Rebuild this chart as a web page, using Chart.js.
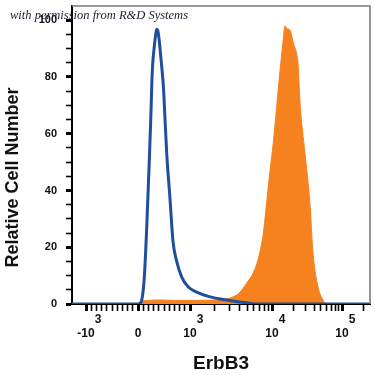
<!DOCTYPE html>
<html><head><meta charset="utf-8">
<script src="https://cdn.jsdelivr.net/npm/chart.js@4.4.1/dist/chart.umd.min.js"></script>
<style>html,body{margin:0;padding:0;background:#fff;}#wrap{width:375px;height:375px;}</style>
</head><body><div id="wrap"><canvas id="c" width="375" height="375"></canvas></div>
<script>
// Isotype control (blue outline) — fluorescence intensity vs relative cell number
const isotypeIntensity = [-1270, 0, 38, 71, 121, 167, 217, 244, 275, 317, 340, 360, 380, 400, 423, 462, 490, 519, 552, 615, 673, 744, 840, 967, 1207, 1754, 2806, 4915, 7140, 251000];
const isotypeCount     = [0, 0, 0.3, 1.3, 9.5, 27, 50.7, 64.8, 82.4, 91.5, 95, 96.8, 96.3, 94, 90, 82.4, 76, 65, 53, 37, 22, 15, 9.5, 6, 4.2, 2.5, 1.4, 0.4, 0, 0];
// ErbB3 stained cells (orange filled)
const erbb3Intensity = [-1270, 0, 77, 423, 808, 1324, 2323, 3344, 4072, 4915, 5912, 6805, 7834, 8616, 9454, 10437, 11600, 13100, 14300, 15340, 16370, 18070, 20150, 22530, 23500, 25120, 29600, 34900, 38500, 45400, 53500, 57150, 67400, 251000];
const erbb3Count     = [0, 0, 1.0, 1.4, 1.2, 1.3, 1.5, 2.5, 4.2, 7.4, 11, 16, 25, 36, 47, 57, 69, 83, 92, 98, 97, 96.5, 92, 88, 85, 71, 53, 35, 18, 6, 1.4, 0.3, 0, 0];

// Axis ticks
const xTickValues = [-1000,-900,-800,-700,-600,-500,-400,-300,-200,-100,0,100,200,300,400,500,600,700,800,900,1000,2000,3000,4000,5000,6000,7000,8000,9000,10000,20000,30000,40000,50000,60000,70000,80000,90000,100000,200000];
const xMajorValues = [-1000, 0, 1000, 10000, 100000];
const xMajorBase = ['-10', '0', '10', '10', '10'];
const xMajorExp  = ['3', '', '3', '4', '5'];
const yTickValues = [0,5,10,15,20,25,30,35,40,45,50,55,60,65,70,75,80,85,90,95,100];
const yLabelStep = 20;
const X_MIN = -1270, X_MAX = 251000, Y_MIN = 0, Y_MAX = 105;
const xTitle = 'ErbB3';
const yTitle = 'Relative Cell Number';
const watermarkText = 'with permission from R&D Systems';

// Biexponential-like display transform (linear near zero, log above 10^3)
const DEC1 = 82 / 52, DEC2 = 70 / 52;
function T(v) {
  if (v <= 1000) return v / 1000;
  const L = Math.log10(v);
  if (L <= 4) return 1 + (L - 3) * DEC1;
  return 1 + DEC1 + (L - 4) * DEC2;
}
const toPts = (xs, ys) => xs.map((x, i) => ({ x: T(x), y: ys[i] }));
const FONT = '"Liberation Sans", Arial, sans-serif';

const decor = {
  id: 'decor',
  afterDraw(chart) {
    const { ctx, chartArea: a } = chart;
    const xs = chart.scales.x;
    ctx.save();
    // top/right frame
    ctx.strokeStyle = '#7a7a7a';
    ctx.lineWidth = 1.6;
    ctx.beginPath();
    ctx.moveTo(a.left, a.top); ctx.lineTo(a.right, a.top); ctx.lineTo(a.right, a.bottom);
    ctx.stroke();
    // x tick labels with raised exponents
    ctx.fillStyle = '#111';
    ctx.textBaseline = 'alphabetic';
    xMajorValues.forEach((v, i) => {
      const px = xs.getPixelForValue(T(v));
      ctx.font = 'bold 12px ' + FONT;
      const w = ctx.measureText(xMajorBase[i]).width;
      ctx.textAlign = 'center';
      ctx.fillText(xMajorBase[i], px, a.bottom + 33);
      if (xMajorExp[i]) {
        ctx.font = 'bold 12px ' + FONT;
        ctx.textAlign = 'left';
        ctx.fillText(xMajorExp[i], px + w / 2, a.bottom + 19);
      }
    });
    // watermark
    ctx.fillStyle = '#1c1c30';
    ctx.textAlign = 'left';
    ctx.font = 'italic 12.5px "Liberation Serif", "DejaVu Serif", serif';
    ctx.fillText(watermarkText, 10, 19);
    ctx.restore();
  }
};

new Chart(document.getElementById('c'), {
  type: 'line',
  data: {
    datasets: [
      { label: 'Isotype', data: toPts(isotypeIntensity, isotypeCount), borderColor: '#1f4e9a', borderWidth: 3, pointRadius: 0, fill: false, cubicInterpolationMode: 'monotone' },
      { label: 'ErbB3', data: toPts(erbb3Intensity, erbb3Count), borderColor: '#f5821f', backgroundColor: '#f5821f', borderWidth: 1, pointRadius: 0, fill: 'origin', cubicInterpolationMode: 'monotone' }
    ]
  },
  options: {
    responsive: false, animation: false, devicePixelRatio: 1,
    layout: { padding: { top: 6, right: 5, left: 0, bottom: 0 } },
    plugins: { legend: { display: false }, tooltip: { enabled: false } },
    scales: {
      x: {
        type: 'linear', min: T(X_MIN), max: T(X_MAX),
        afterBuildTicks: s => { s.ticks = xTickValues.map(v => ({ value: T(v) })); },
        afterFit: s => { s.height = 71; s.paddingLeft = 0; s.paddingRight = 0; },
        border: { display: true, color: '#000', width: 2 },
        grid: { drawOnChartArea: false, drawTicks: true, tickLength: 7, tickColor: '#000',
          tickWidth: c => xMajorValues.includes(xTickValues[c.index]) ? 3 : 1.6 },
        ticks: { autoSkip: false, maxRotation: 0, minRotation: 0, callback: () => '' },
        title: { display: true, text: xTitle, color: '#111', padding: { top: 0, bottom: 0 },
          font: { family: FONT, weight: 'bold', size: 19 } }
      },
      y: {
        type: 'linear', min: Y_MIN, max: Y_MAX,
        afterBuildTicks: s => { s.ticks = yTickValues.map(v => ({ value: v })); },
        afterFit: s => { s.width = 72; s.paddingTop = 0; s.paddingBottom = 0; },
        border: { display: true, color: '#000', width: 2 },
        grid: { drawOnChartArea: false, drawTicks: true, tickLength: 6, tickColor: '#000',
          tickWidth: c => (yTickValues[c.index] % yLabelStep === 0) ? 3 : 1.6 },
        ticks: { autoSkip: false, padding: 9, color: '#111',
          font: { family: FONT, weight: 'bold', size: 11 },
          callback: (v, i) => (yTickValues[i] % yLabelStep === 0) ? String(yTickValues[i]) : '' },
        title: { display: true, text: yTitle + '         ', color: '#111', padding: { top: 2, bottom: 0 },
          font: { family: FONT, weight: 'bold', size: 18 } }
      }
    }
  },
  plugins: [decor]
});
</script></body></html>
